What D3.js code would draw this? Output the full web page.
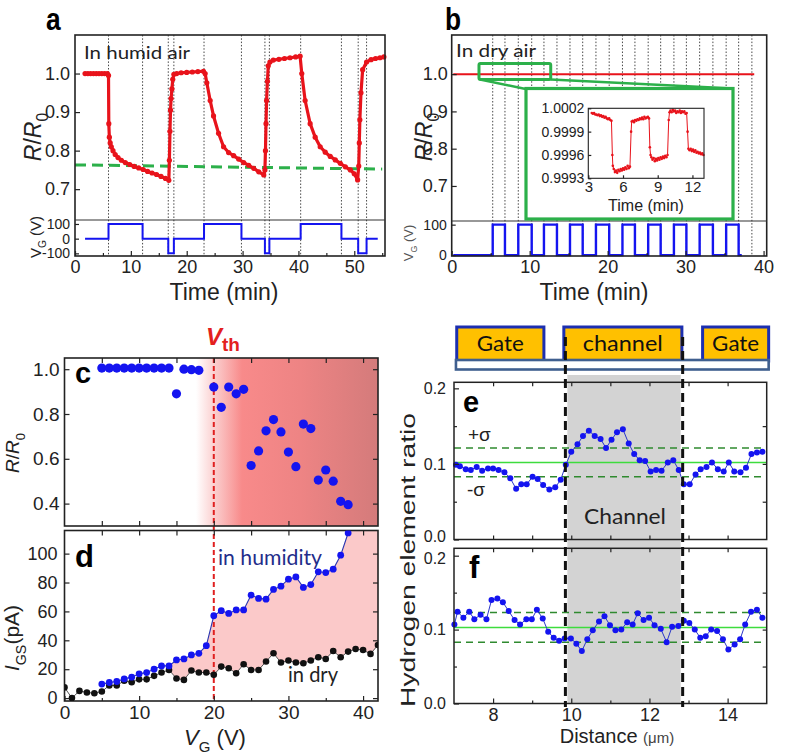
<!DOCTYPE html>
<html><head><meta charset="utf-8">
<script src="https://cdn.jsdelivr.net/npm/d3@7/dist/d3.min.js"></script>
<style>html,body{margin:0;padding:0;background:#fff;} svg{display:block;}</style>
</head><body>
<svg id="fig" width="787" height="755" xmlns="http://www.w3.org/2000/svg"></svg>
<script>
// ================= DATA =================
// Panel a: R/R0 vs time (min) in humid air
const humidCurve = [[1.8,1.0],[2.3,1.0],[2.8,1.0],[3.3,1.0],[3.8,1.0],[4.3,1.0],[4.8,1.0],[5.3,1.0],[5.8,1.0],[6.0,0.995],
[6.05,0.87],[6.15,0.835],[6.3,0.82],[6.5,0.81],[6.8,0.80],[7.2,0.79],[7.7,0.782],[8.3,0.775],[9.0,0.769],[9.8,0.764],[10.6,0.759],[11.4,0.755],[12.2,0.751],[13.0,0.746],[13.8,0.742],[14.6,0.738],[15.4,0.733],[16.2,0.728],[16.8,0.723],
[16.9,0.775],[17.0,0.85],[17.1,0.905],[17.2,0.935],[17.35,0.96],[17.5,0.985],[17.7,0.998],[18.2,1.0],[19.0,1.002],[20.0,1.003],[21.0,1.004],[22.0,1.005],[23.0,1.006],
[23.3,1.0],[23.6,0.976],[24.2,0.93],[24.8,0.89],[25.7,0.845],[26.6,0.81],[27.5,0.795],[28.4,0.787],[29.3,0.778],[30.2,0.769],[31.1,0.762],[32.0,0.754],[32.9,0.745],[33.8,0.737],
[34.0,0.75],[34.1,0.80],[34.2,0.87],[34.3,0.93],[34.45,0.98],[34.6,1.02],[34.9,1.03],[35.5,1.035],[36.5,1.037],[37.5,1.039],[38.5,1.041],[39.5,1.043],[40.3,1.045],
[40.6,1.0],[41.2,0.93],[42.1,0.87],[43.0,0.835],[43.9,0.81],[44.8,0.796],[45.7,0.785],[46.6,0.776],[47.5,0.767],[48.4,0.758],[49.3,0.75],[50.0,0.74],[50.6,0.724],
[50.8,0.76],[50.9,0.82],[51.0,0.88],[51.2,0.95],[51.5,1.01],[52.2,1.03],[53.0,1.036],[53.8,1.039],[54.6,1.041],[55.3,1.043]];
const humidGate = [[1.8,0],[6.0,0],[6.0,100],[12.1,100],[12.1,0],[16.7,0],[16.7,-100],[17.7,-100],[17.7,0],[23.1,0],[23.1,100],[29.8,100],[29.8,0],[34.0,0],[34.0,-100],[34.8,-100],[34.8,0],[40.4,0],[40.4,100],[47.7,100],[47.7,0],[50.7,0],[50.7,-100],[52.2,-100],[52.2,0],[54.2,0]];
const humidSwitches = [6.0,12.1,16.7,17.7,23.1,29.8,34.0,34.8,40.4,47.7,50.7,52.2];
const humidThreshold = [[0,0.763],[55,0.752]];
const aTimeTicks = [0,10,20,30,40,50];
const aRatioTicks = [0.7,0.8,0.9,1.0];
const aGateTicks = [-100,0,100];

// Panel b: dry air
const dryLine = [[0.2,1.0],[38.8,1.0]];
const dryRise = [5.26,8.54,11.83,15.17,18.5,21.9,25.2,28.5,31.8,35.2];
const dryFall = [6.83,10.26,13.5,16.8,20.2,23.5,26.8,30.1,33.5,36.8];
const dryGateStart = 0.2, dryGateEnd = 37.2;
const drySwitches = [5.26,6.83,8.54,10.26,11.83,13.5,15.17,16.8,18.5,20.2,21.9,23.5,25.2,26.8,28.5,30.1,31.8,33.5,35.2,36.8,38.5];
const bTimeTicks = [0,10,20,30,40];
const bGateTicks = [0,100];
// inset (zoom of dry air response)
const insetCurve = [[3.3,1.00014],[3.4,1.00013],[3.5,1.00014],[3.6,1.00012],[3.7,1.00012],[3.8,1.00011],[3.9,1.00012],[4.0,1.00010],[4.1,1.00011],[4.2,1.00009],[4.3,1.00010],[4.4,1.00008],[4.5,1.00009],[4.6,1.00007],[4.7,1.00006],[4.8,1.00007],[4.9,1.00005],[5.0,1.00004],
[5.08,0.99960],[5.12,0.99946],[5.2,0.99942],[5.3,0.99938],[5.4,0.99940],[5.5,0.99937],[5.6,0.99941],[5.7,0.99939],[5.8,0.99942],[5.9,0.99940],[6.0,0.99943],[6.1,0.99941],[6.2,0.99944],[6.3,0.99942],[6.4,0.99946],[6.5,0.99943],[6.6,0.99945],
[6.7,0.99990],[6.75,1.00003],[6.85,1.00004],[6.95,1.00002],[7.05,1.00005],[7.15,1.00004],[7.25,1.00006],[7.35,1.00005],[7.45,1.00007],[7.55,1.00006],[7.65,1.00008],[7.75,1.00006],[7.85,1.00009],[7.95,1.00007],[8.05,1.00008],[8.15,1.00009],[8.25,1.00007],
[8.32,0.99970],[8.38,0.99960],[8.45,0.99957],[8.55,0.99954],[8.65,0.99956],[8.75,0.99952],[8.85,0.99955],[8.95,0.99953],[9.05,0.99956],[9.15,0.99954],[9.25,0.99957],[9.35,0.99955],[9.45,0.99958],[9.55,0.99956],[9.65,0.99959],[9.75,0.99957],[9.85,0.99960],
[9.95,1.00005],[10.02,1.00015],[10.1,1.00017],[10.2,1.00015],[10.3,1.00018],[10.4,1.00016],[10.5,1.00017],[10.6,1.00014],[10.7,1.00016],[10.8,1.00015],[10.9,1.00017],[11.0,1.00014],[11.1,1.00016],[11.2,1.00015],[11.3,1.00016],[11.4,1.00013],[11.5,1.00014],
[11.58,0.99990],[11.65,0.99968],[11.75,0.99966],[11.85,0.99968],[11.95,0.99965],[12.05,0.99967],[12.15,0.99964],[12.25,0.99966],[12.35,0.99963],[12.45,0.99964],[12.55,0.99962],[12.65,0.99963],[12.75,0.99961],[12.85,0.99962],[12.95,0.99960]];
const insetTimeTicks = [3,6,9,12];
const insetRatioTicks = [0.9993,0.9996,0.9999,1.0002];

// Panel c: R/R0 vs VG
const cVoltage = [5,6,7,8,9,10,11,12,13,14,15,16,17,18,20,21,22,23,24,25,26,27,28,29,30,31,32,33,34,35,36,37,38];
const cRatio = [1.005,1.005,1.005,1.005,1.005,1.005,1.005,1.005,1.005,1.005,0.89,1.0,0.998,0.995,0.92,0.83,0.92,0.89,0.91,0.57,0.635,0.725,0.775,0.72,0.63,0.565,0.755,0.735,0.505,0.55,0.50,0.41,0.395];
const cRatioTicks = [0.4,0.6,0.8,1.0];
const vth = 20;

// Panel d: IGS vs VG
const dVoltHumid = [5,6,7,8,9,10,11,12,13,14,15,16,17,18,19,20,21,22,23,24,25,26,27,28,29,30,31,32,33,34,35,36,37,38];
const dHumid = [9.7,10.8,11.5,13.3,14.5,16.8,17.7,20.0,22.3,22.3,26.4,27.1,29.9,31.0,36.3,57.0,60.5,58.6,61.0,61.0,71.3,69.0,68.5,75.2,77.5,82.3,83.9,76.6,78.6,87.4,86.9,89.2,98.9,114.3];
const dVoltDry = [0,1,2,3,4,5,6,7,8,9,10,11,12,13,14,15,16,17,18,19,20,21,22,23,24,25,26,27,28,29,30,31,32,33,34,35,36,37,38,39,40,41,42];
const dDry = [7.4,0,5.0,3.9,3.4,4.6,8.7,8.7,12.0,11.0,13.0,13.0,15.4,17.7,19.5,13.6,12.6,19.1,17.7,17.7,16.1,21.8,20.7,17.2,23.4,19.5,19.5,25.3,31.0,24.6,26.0,24.6,24.1,26.0,28.3,27.1,32.6,28.3,32.2,34.0,33.3,30.6,36.8];
const dCurrentTicks = [0,20,40,60,80,100];
const cdVoltTicks = [0,10,20,30,40];

// Panels e, f: hydrogen element ratio vs distance (um)
const eDistance = [7.05,7.15,7.30,7.43,7.58,7.72,7.87,8.00,8.14,8.29,8.44,8.59,8.72,8.86,9.01,9.14,9.28,9.44,9.59,9.73,9.86,10.00,10.16,10.30,10.45,10.60,10.75,10.89,11.03,11.17,11.32,11.47,11.61,11.75,11.89,12.03,12.17,12.31,12.47,12.61,12.75,12.88,13.03,13.18,13.31,13.46,13.60,13.75,13.90,14.03,14.17,14.33,14.47,14.61,14.75,14.89];
const eRatio = [0.099,0.097,0.093,0.092,0.096,0.091,0.094,0.094,0.092,0.089,0.081,0.067,0.073,0.073,0.083,0.080,0.072,0.066,0.069,0.079,0.099,0.116,0.126,0.137,0.144,0.137,0.133,0.121,0.132,0.142,0.146,0.127,0.113,0.105,0.104,0.090,0.092,0.091,0.102,0.105,0.092,0.073,0.073,0.086,0.093,0.096,0.102,0.093,0.090,0.102,0.090,0.089,0.095,0.113,0.115,0.116];
const fDistance = [7.01,7.09,7.24,7.39,7.52,7.68,7.83,7.96,8.11,8.25,8.40,8.55,8.69,8.85,8.99,9.12,9.27,9.41,9.55,9.69,9.83,9.99,10.13,10.27,10.41,10.55,10.71,10.85,10.99,11.13,11.28,11.43,11.57,11.70,11.85,11.99,12.13,12.29,12.44,12.58,12.74,12.88,13.02,13.16,13.30,13.44,13.58,13.73,13.88,14.02,14.18,14.32,14.45,14.60,14.75,14.89];
const fRatio = [0.107,0.124,0.116,0.124,0.114,0.120,0.114,0.140,0.142,0.137,0.125,0.113,0.107,0.114,0.114,0.127,0.115,0.097,0.089,0.085,0.088,0.088,0.081,0.071,0.087,0.099,0.111,0.118,0.106,0.099,0.100,0.110,0.107,0.122,0.113,0.116,0.106,0.101,0.083,0.104,0.105,0.112,0.109,0.100,0.089,0.091,0.100,0.098,0.087,0.073,0.080,0.087,0.107,0.124,0.127,0.116];
const eMean = 0.102, eSigma = 0.019;
const fMean = 0.103, fSigma = 0.020;
const channelRange = [9.9, 12.8];
const channelEdges = [9.85, 12.85];
const layoutBlocks = [{label:"Gate", from:7.07, to:9.30},{label:"channel", from:9.81, to:12.83},{label:"Gate", from:13.36, to:15.05}];
const distTicks = [8,10,12,14];
const hTicks = [0.0,0.1,0.2];

// ================= DRAWING =================
const svg = d3.select("#fig");
const FONT = "'Liberation Sans', Arial, Helvetica, sans-serif";
const CAL = "Lato, 'Open Sans', sans-serif";
const INK = "#222";
svg.append("rect").attr("width",787).attr("height",755).attr("fill","#fff");

function styleAxis(a, size){
  a.select(".domain").remove();
  a.selectAll(".tick line").attr("stroke",INK).attr("stroke-width",1.2);
  a.selectAll(".tick text").attr("font-family",FONT).attr("font-size",size).attr("fill",INK);
  return a;
}
function addAxis(g, axis, tx, ty, size){
  return styleAxis(g.append("g").attr("transform",`translate(${tx},${ty})`).call(axis), size||16);
}
function frame(g,x0,y0,x1,y1,w){
  g.append("rect").attr("x",x0).attr("y",y0).attr("width",x1-x0).attr("height",y1-y0)
   .attr("fill","none").attr("stroke",INK).attr("stroke-width",w||1.6);
}
function rich(g, parts, fs, opts){
  opts = opts||{};
  const t = g.append("text").attr("font-size",fs).attr("font-family",opts.font||FONT)
    .attr("fill",opts.fill||INK).attr("text-anchor",opts.anchor||"middle");
  if(opts.x!==undefined) t.attr("x",opts.x);
  if(opts.y!==undefined) t.attr("y",opts.y);
  let shift=0;
  parts.forEach(p=>{
    const ts=t.append("tspan").text(p.t);
    const target = p.sub? fs*0.32 : 0;
    if(target!==shift){ ts.attr("dy", target-shift); shift=target; }
    if(p.sub) ts.attr("font-size", fs*0.68);
    if(p.size) ts.attr("font-size", p.size);
    if(p.i) ts.attr("font-style","italic");
    if(p.b) ts.attr("font-weight","bold");
    if(p.fill) ts.attr("fill",p.fill);
  });
  return t;
}
function vlabel(g, x, y, parts, fs, opts){
  const gg = g.append("g").attr("transform",`translate(${x},${y}) rotate(-90)`);
  return rich(gg, parts, fs, Object.assign({y: fs*0.35}, opts||{}));
}
function bigLetter(g, txt, x, y, fs, sx){
  g.append("text").attr("transform",`translate(${x},${y}) scale(${sx||1},1)`)
   .attr("font-family",FONT).attr("font-weight","bold").attr("font-size",fs).attr("fill","#000").text(txt);
}
const RED = "#e8131b", BLUE = "#1414f0", GREEN = "#2cb04a";

// ---------- Panel a ----------
(function(){
  const x0=75,x1=385,y0=35,ys=220,y1=256;
  const x = d3.scaleLinear().domain([0,55.5]).range([x0,x1]);
  const yR = d3.scaleLinear().domain([0.62,1.10]).range([ys,y0]);
  const yV = d3.scaleLinear().domain([-118,127]).range([y1,ys]);
  const g = svg.append("g");
  g.selectAll("line.sw").data(humidSwitches).join("line").attr("class","sw")
    .attr("x1",d=>x(d)).attr("x2",d=>x(d)).attr("y1",y0).attr("y2",y1)
    .attr("stroke","#333").attr("stroke-width",0.9).attr("stroke-dasharray","1.5,1.8");
  g.append("path").datum(humidThreshold).attr("fill","none").attr("stroke",GREEN).attr("stroke-width",3)
    .attr("stroke-dasharray","11,6").attr("d",d3.line().x(d=>x(d[0])).y(d=>yR(d[1])));
  g.append("path").datum(humidCurve).attr("fill","none").attr("stroke",RED).attr("stroke-width",3.2)
    .attr("stroke-linejoin","round").attr("d",d3.line().x(d=>x(d[0])).y(d=>yR(d[1])));
  g.selectAll("circle.hc").data(humidCurve).join("circle").attr("class","hc")
    .attr("cx",d=>x(d[0])).attr("cy",d=>yR(d[1])).attr("r",2.6).attr("fill",RED);
  g.append("path").datum(humidGate).attr("fill","none").attr("stroke",BLUE).attr("stroke-width",2)
    .attr("d",d3.line().x(d=>x(d[0])).y(d=>yV(d[1])));
  frame(g,x0,y0,x1,y1);
  g.append("line").attr("x1",x0).attr("x2",x1).attr("y1",ys).attr("y2",ys).attr("stroke","#333").attr("stroke-width",1.2);
  addAxis(g, d3.axisBottom(x).tickValues(aTimeTicks).tickSize(-5).tickPadding(4), 0, y1, 18);
  addAxis(g, d3.axisBottom(x).tickValues(aTimeTicks.map(v=>v+5)).tickSize(-3).tickFormat(""), 0, y1, 18);
  addAxis(g, d3.axisLeft(yR).tickValues(aRatioTicks).tickFormat(d3.format(".1f")).tickSize(-5).tickPadding(5), x0, 0, 18);
  addAxis(g, d3.axisLeft(yV).tickValues(aGateTicks).tickFormat(d=>d<0?"-"+(-d):d).tickSize(-4).tickPadding(5), x0, 0, 14);
  vlabel(g, 33, 137, [{t:"R",i:true},{t:"/"},{t:"R",i:true},{t:"0",sub:true}], 23);
  vlabel(g, 36, 237, [{t:"V"},{t:"G",sub:true},{t:" (V)"}], 15);
  g.append("text").attr("x",224).attr("y",300).attr("text-anchor","middle").attr("font-family",FONT).attr("font-size",23).attr("fill",INK).text("Time (min)");
  g.append("text").attr("x",84).attr("y",59).attr("font-family",CAL).attr("font-size",18).attr("fill",INK)
    .attr("textLength",106).attr("lengthAdjust","spacingAndGlyphs").text("In humid air");
  bigLetter(g,"a",46,30,31,0.85);
})();

// ---------- Panel b ----------
(function(){
  const x0=451.7,x1=766.7,y0=35,ys=221,y1=256;
  const x = d3.scaleLinear().domain([0,40.4]).range([x0,x1]);
  const yR = d3.scaleLinear().domain([0.606,1.105]).range([ys,y0]);
  const yV = d3.scaleLinear().domain([-3,112]).range([y1,ys]);
  const g = svg.append("g");
  g.selectAll("line.sw").data(drySwitches).join("line").attr("class","sw")
    .attr("x1",d=>x(d)).attr("x2",d=>x(d)).attr("y1",y0).attr("y2",y1)
    .attr("stroke","#333").attr("stroke-width",0.9).attr("stroke-dasharray","1.5,1.8");
  g.append("path").datum(dryLine).attr("fill","none").attr("stroke",RED).attr("stroke-width",2)
    .attr("d",d3.line().x(d=>x(d[0])).y(d=>yR(d[1])));
  const wave = [[dryGateStart,0]];
  dryRise.forEach((r,i)=>{ wave.push([r,0],[r,100],[dryFall[i],100],[dryFall[i],0]); });
  wave.push([dryGateEnd,0]);
  g.append("path").datum(wave).attr("fill","none").attr("stroke",BLUE).attr("stroke-width",2.4)
    .attr("d",d3.line().x(d=>x(d[0])).y(d=>yV(d[1])));
  frame(g,x0,y0,x1,y1);
  g.append("line").attr("x1",x0).attr("x2",x1).attr("y1",ys).attr("y2",ys).attr("stroke","#333").attr("stroke-width",1.2);
  addAxis(g, d3.axisBottom(x).tickValues(bTimeTicks).tickSize(-5).tickPadding(4), 0, y1, 18);
  addAxis(g, d3.axisBottom(x).tickValues([5,15,25,35]).tickSize(-3).tickFormat(""), 0, y1, 18);
  addAxis(g, d3.axisLeft(yR).tickValues(aRatioTicks).tickFormat(d3.format(".1f")).tickSize(-5).tickPadding(4), x0, 0, 18);
  addAxis(g, d3.axisLeft(yV).tickValues(bGateTicks).tickSize(-4).tickPadding(5), x0, 0, 14);
  vlabel(g, 424, 137, [{t:"R",i:true},{t:"/"},{t:"R",i:true},{t:"0",sub:true}], 23);
  vlabel(g, 408, 243, [{t:"V"},{t:"G",sub:true},{t:" (V)"}], 13, {fill:"#555"});
  g.append("text").attr("x",594).attr("y",300).attr("text-anchor","middle").attr("font-family",FONT).attr("font-size",23).attr("fill",INK).text("Time (min)");
  g.append("text").attr("x",456).attr("y",57).attr("font-family",CAL).attr("font-size",18).attr("fill",INK)
    .attr("textLength",80).attr("lengthAdjust","spacingAndGlyphs").text("In dry air");
  bigLetter(g,"b",445,30,31,0.85);
  // zoom boxes
  const small = {x0:x(3.5), x1:x(12.7), y0:63.5, y1:79.5};
  const big = {x0:526, x1:733, y0:88.5, y1:219};
  g.append("line").attr("x1",small.x0+1).attr("y1",small.y1).attr("x2",big.x0+2).attr("y2",big.y0+1).attr("stroke",GREEN).attr("stroke-width",2.5);
  g.append("line").attr("x1",small.x1).attr("y1",small.y1).attr("x2",big.x1).attr("y2",big.y0).attr("stroke",GREEN).attr("stroke-width",2.5);
  g.append("rect").attr("x",small.x0).attr("y",small.y0).attr("width",small.x1-small.x0).attr("height",small.y1-small.y0)
    .attr("fill","none").attr("stroke",GREEN).attr("stroke-width",3).attr("rx",1.5);
  g.append("rect").attr("x",big.x0).attr("y",big.y0).attr("width",big.x1-big.x0).attr("height",big.y1-big.y0)
    .attr("fill","#fff").attr("stroke",GREEN).attr("stroke-width",3.2);
  // inset
  const ix = d3.scaleLinear().domain([3,13]).range([588.3,704]);
  const iy = d3.scaleLinear().domain([0.9993,1.0002]).range([178.3,108.3]);
  g.append("path").datum(insetCurve).attr("fill","none").attr("stroke",RED).attr("stroke-width",1)
    .attr("d",d3.line().x(d=>ix(d[0])).y(d=>iy(d[1])));
  g.selectAll("circle.ic").data(insetCurve).join("circle").attr("class","ic")
    .attr("cx",d=>ix(d[0])).attr("cy",d=>iy(d[1])).attr("r",1.3).attr("fill",RED);
  frame(g,588.3,108.3,704,178.3,1.1);
  addAxis(g, d3.axisBottom(ix).tickValues(insetTimeTicks).tickSize(-3).tickPadding(3), 0, 178.3, 15);
  addAxis(g, d3.axisLeft(iy).tickValues(insetRatioTicks).tickFormat(d3.format(".4f")).tickSize(-3).tickPadding(4), 588.3, 0, 14);
  g.append("text").attr("x",646).attr("y",211).attr("text-anchor","middle").attr("font-family",FONT).attr("font-size",16).attr("fill",INK).text("Time (min)");
})();

// ---------- Panels c & d ----------
(function(){
  const x0=64.5,x1=378;
  const cy0=358,cy1=526,dy0=530.5,dy1=701;
  const x = d3.scaleLinear().domain([0,42]).range([x0,x1]);
  const yc = d3.scaleLinear().domain([0.30,1.05]).range([cy1,cy0]);
  const yd = d3.scaleLinear().domain([-2,116]).range([dy1,dy0]);
  const g = svg.append("g");
  const defs = svg.append("defs");
  const grad = defs.append("linearGradient").attr("id","cgrad").attr("gradientUnits","userSpaceOnUse")
    .attr("x1",x0).attr("x2",x1).attr("y1",0).attr("y2",0);
  const off = px => (px-x0)/(x1-x0);
  [[196,"#ffffff"],[214,"#fbd0d0"],[242,"#f88a8a"],[300,"#ee8484"],[378,"#d47b7b"]].forEach(s=>{
    grad.append("stop").attr("offset",off(s[0])).attr("stop-color",s[1]);
  });
  g.append("rect").attr("x",x0).attr("y",cy0).attr("width",x1-x0).attr("height",cy1-cy0).attr("fill","url(#cgrad)");
  defs.append("clipPath").attr("id","dclip").append("rect").attr("x",x0).attr("y",dy0).attr("width",x1-x0).attr("height",dy1-dy0);
  // pink area between humidity and dry curves from 14 V
  const upper = dVoltHumid.map((v,i)=>[v,dHumid[i]]).filter(d=>d[0]>=14);
  upper.push([38.3,118],[42.5,118]);
  const lower = dVoltDry.map((v,i)=>[v,dDry[i]]).filter(d=>d[0]>=14).reverse();
  const poly = upper.concat(lower);
  g.append("path").datum(poly).attr("clip-path","url(#dclip)").attr("fill","#fbc9c9").attr("stroke","none")
    .attr("d",d3.line().x(d=>x(d[0])).y(d=>yd(d[1])));
  // Vth line
  g.append("line").attr("x1",x(vth)).attr("x2",x(vth)).attr("y1",cy0).attr("y2",dy1)
    .attr("stroke","#e02020").attr("stroke-width",2).attr("stroke-dasharray","5,3");
  // frames
  frame(g,x0,cy0,x1,cy1); frame(g,x0,dy0,x1,dy1);
  // c points
  g.selectAll("circle.cp").data(cVoltage).join("circle").attr("class","cp")
    .attr("cx",d=>x(d)).attr("cy",(d,i)=>yc(cRatio[i])).attr("r",4.6).attr("fill",BLUE);
  // d curves
  const dh = dVoltHumid.map((v,i)=>[v,dHumid[i]]);
  const dd = dVoltDry.map((v,i)=>[v,dDry[i]]);
  const gd = g.append("g").attr("clip-path","url(#dclip)");
  gd.append("path").datum(dd).attr("fill","none").attr("stroke","#555").attr("stroke-width",1)
    .attr("d",d3.line().x(d=>x(d[0])).y(d=>yd(d[1])));
  gd.append("path").datum(dh).attr("fill","none").attr("stroke","#2a36b0").attr("stroke-width",1.1)
    .attr("d",d3.line().x(d=>x(d[0])).y(d=>yd(d[1])));
  gd.selectAll("circle.dd").data(dd).join("circle").attr("class","dd")
    .attr("cx",d=>x(d[0])).attr("cy",d=>yd(d[1])).attr("r",3.3).attr("fill","#111");
  gd.selectAll("circle.dh").data(dh).join("circle").attr("class","dh")
    .attr("cx",d=>x(d[0])).attr("cy",d=>yd(d[1])).attr("r",3.4).attr("fill",BLUE);
  // axes c
  const minor = [5,15,25,35];
  const all5 = [5,10,15,20,25,30,35,40];
  addAxis(g, d3.axisLeft(yc).tickValues(cRatioTicks).tickFormat(d3.format(".1f")).tickSize(-5).tickPadding(5), x0, 0, 19);
  addAxis(g, d3.axisRight(yc).tickValues([0.4,0.6,0.8,1.0]).tickFormat("").tickSize(-5), x1, 0);
  addAxis(g, d3.axisTop(x).tickValues(all5).tickFormat("").tickSize(-5), 0, cy0);
  addAxis(g, d3.axisBottom(x).tickValues(all5).tickFormat("").tickSize(-5), 0, cy1);
  // axes d
  addAxis(g, d3.axisLeft(yd).tickValues(dCurrentTicks).tickSize(-5).tickPadding(7), x0, 0, 18);
  addAxis(g, d3.axisRight(yd).tickValues(dCurrentTicks).tickFormat("").tickSize(-5), x1, 0);
  addAxis(g, d3.axisTop(x).tickValues(all5).tickFormat("").tickSize(-5), 0, dy0);
  addAxis(g, d3.axisBottom(x).tickValues(cdVoltTicks).tickSize(-5).tickPadding(5), 0, dy1, 19);
  addAxis(g, d3.axisBottom(x).tickValues(minor).tickSize(-3).tickFormat(""), 0, dy1);
  // labels
  vlabel(g, 12, 453, [{t:"R",i:true},{t:"/"},{t:"R",i:true},{t:"0",sub:true}], 19);
  vlabel(g, 12, 638, [{t:"I",i:true},{t:"GS",sub:true},{t:"(pA)"}], 21);
  rich(g, [{t:"V",i:true},{t:"G",sub:true},{t:" (V)"}], 22, {x:215, y:745});
  rich(g, [{t:"V",i:true,b:true},{t:"th",b:true,size:19}], 24, {x:206, y:345, anchor:"start", fill:"#e3201e"})
    .select("tspan:nth-child(2)").attr("dy",6);
  bigLetter(g,"c",75,383,29);
  bigLetter(g,"d",75,567,31);
  g.append("text").attr("x",218).attr("y",565).attr("font-family",CAL).attr("font-size",21).attr("fill","#1f2d8a")
    .attr("textLength",104).attr("lengthAdjust","spacingAndGlyphs").text("in humidity");
  g.append("text").attr("x",288).attr("y",682).attr("font-family",CAL).attr("font-size",21).attr("fill",INK)
    .attr("textLength",50).attr("lengthAdjust","spacingAndGlyphs").text("in dry");
})();

// ---------- Panels e & f ----------
(function(){
  const x0=454,x1=766.7;
  const ey0=382.3,ey1=539.5,fy0=548.3,fy1=703.5;
  const x = d3.scaleLinear().domain([7,15]).range([x0,x1]);
  const ye = d3.scaleLinear().domain([0,0.208]).range([ey1,ey0]);
  const yf = d3.scaleLinear().domain([0,0.21]).range([fy1,fy0]);
  const g = svg.append("g");
  g.append("rect").attr("x",x(channelRange[0])).attr("y",375).attr("width",x(channelRange[1])-x(channelRange[0]))
    .attr("height",fy1-375).attr("fill","#d3d3d3");
  function panel(y, xs, ys, mean, sig, yy0, yy1, which){
    g.append("line").attr("x1",x0).attr("x2",x1).attr("y1",y(mean)).attr("y2",y(mean)).attr("stroke","#3ddc3d").attr("stroke-width",1.5);
    [mean+sig, mean-sig].forEach(v=>{
      g.append("line").attr("x1",x0).attr("x2",x1).attr("y1",y(v)).attr("y2",y(v))
       .attr("stroke","#2f8a2f").attr("stroke-width",1.5).attr("stroke-dasharray","7,5");
    });
    const pts = xs.map((v,i)=>[v,ys[i]]);
    g.append("path").datum(pts).attr("fill","none").attr("stroke","#2a36c8").attr("stroke-width",1)
      .attr("d",d3.line().x(d=>x(d[0])).y(d=>y(d[1])));
    g.selectAll(null).data(pts).join("circle").attr("cx",d=>x(d[0])).attr("cy",d=>y(d[1])).attr("r",3).attr("fill",BLUE);
    frame(g,x0,yy0,x1,yy1,1.5);
    const ax = addAxis(g, d3.axisLeft(y).tickValues(hTicks).tickFormat(d3.format(".1f")).tickSize(-5).tickPadding(8), x0, 0, 16);
    // keep the stacked 0.0 / 0.2 labels from colliding
    ax.selectAll(".tick text").attr("dy",(d)=>{
      if(which==="e" && d===0) return "0.12em";
      if(which==="f" && d===0.2) return "0.5em";
      return "0.32em";
    });
    addAxis(g, d3.axisLeft(y).tickValues([0.05,0.15]).tickFormat("").tickSize(-3), x0, 0);
    addAxis(g, d3.axisRight(y).tickValues([0.05,0.1,0.15]).tickFormat("").tickSize(-4), x1, 0);
    addAxis(g, d3.axisTop(x).tickValues([8,9,10,11,12,13,14]).tickFormat("").tickSize(-4), 0, yy0);
  }
  panel(ye, eDistance, eRatio, eMean, eSigma, ey0, ey1, "e");
  panel(yf, fDistance, fRatio, fMean, fSigma, fy0, fy1, "f");
  addAxis(g, d3.axisBottom(x).tickValues(distTicks).tickSize(-5).tickPadding(5), 0, fy1, 18);
  addAxis(g, d3.axisBottom(x).tickValues([9,11,13]).tickSize(-3).tickFormat(""), 0, fy1);
  addAxis(g, d3.axisBottom(x).tickValues([8,9,10,11,12,13,14]).tickSize(-4).tickFormat(""), 0, ey1);
  // layout diagram
  layoutBlocks.forEach(b=>{
    g.append("rect").attr("x",x(b.from)).attr("y",327).attr("width",x(b.to)-x(b.from)).attr("height",34)
      .attr("fill","#ffc000").attr("stroke","#1c2fb0").attr("stroke-width",3);
  });
  g.append("rect").attr("x",x(7.05)).attr("y",360).attr("width",x(15.05)-x(7.05)).attr("height",9.5)
    .attr("fill","#fff").attr("stroke","#3f5f8f").attr("stroke-width",2.6);
  const tl = [47,80,47];
  layoutBlocks.forEach((b,i)=>{
    g.append("text").attr("x",(x(b.from)+x(b.to))/2).attr("y",351).attr("text-anchor","middle")
      .attr("font-family",CAL).attr("font-size",21).attr("fill","#111")
      .attr("textLength",tl[i]).attr("lengthAdjust","spacingAndGlyphs").text(b.label);
  });
  // channel edges
  channelEdges.forEach(v=>{
    g.append("line").attr("x1",x(v)).attr("x2",x(v)).attr("y1",337).attr("y2",707)
      .attr("stroke","#111").attr("stroke-width",3).attr("stroke-dasharray","9,5");
  });
  // texts
  g.append("text").attr("x",625).attr("y",524).attr("text-anchor","middle").attr("font-family",CAL).attr("font-size",21)
    .attr("fill","#222").attr("textLength",82).attr("lengthAdjust","spacingAndGlyphs").text("Channel");
  g.append("text").attr("x",468).attr("y",441).attr("font-family",FONT).attr("font-size",19).attr("fill","#222").text("+σ");
  g.append("text").attr("x",467).attr("y",496).attr("font-family",FONT).attr("font-size",19).attr("fill","#222").text("-σ");
  bigLetter(g,"e",463,412,29);
  bigLetter(g,"f",469,578,31);
  const hl = svg.append("g").attr("transform","translate(408,560) rotate(-90)");
  hl.append("text").attr("y",7).attr("text-anchor","middle").attr("font-family",FONT).attr("font-size",20).attr("fill",INK)
    .attr("textLength",294).attr("lengthAdjust","spacingAndGlyphs").text("Hydrogen element ratio");
  rich(g, [{t:"Distance "},{t:"(μm)",size:15,fill:"#444"}], 20, {x:617, y:743});
})();
</script>
</body></html>
